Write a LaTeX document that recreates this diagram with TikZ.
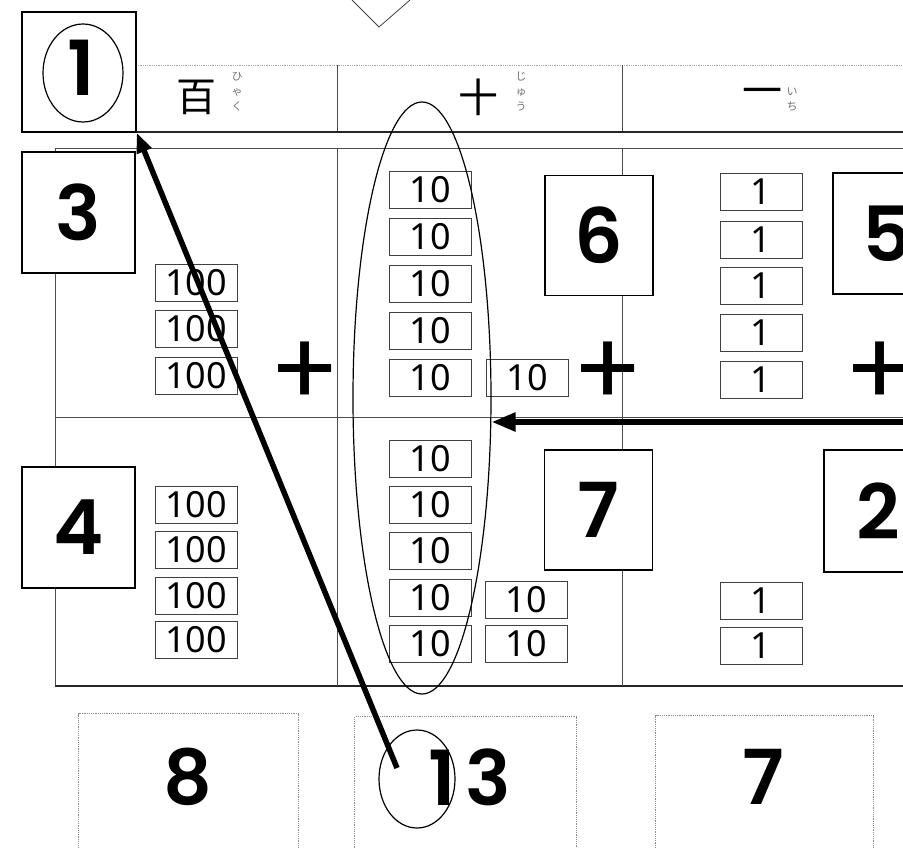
\documentclass[tikz,border=0pt]{standalone}
\usepackage{fontspec}
\setmainfont{Noto Sans}
\newfontfamily\jpfont{Noto Sans CJK JP}
\newfontfamily\numfont{Poppins}[BoldFont={Poppins SemiBold}]
\usetikzlibrary{arrows.meta,positioning,shapes.geometric}

\begin{document}
\begin{tikzpicture}[
    x=1pt, y=-1pt,
    >=Latex,
    grid/.style={draw=black!70, line width=0.8pt},
    chip/.style={draw=black!75, line width=0.9pt, fill=white, minimum width=82pt, minimum height=37pt, inner sep=0pt, font=\fontsize{36}{36}\selectfont},
    numbox/.style={draw=black, line width=1.4pt, fill=white, minimum width=108pt, minimum height=120pt, inner sep=0pt, font=\numfont\bfseries\fontsize{76}{76}\selectfont},
    ansbox/.style={draw=black!45, densely dotted, line width=1.2pt, minimum width=220pt, minimum height=150pt, anchor=north west, inner sep=0pt},
    ansnum/.style={font=\numfont\bfseries\fontsize{76}{76}\selectfont, inner sep=0pt},
    plus/.style={font=\numfont\fontsize{104}{104}\selectfont, inner sep=0pt},
    head/.style={font=\jpfont\fontsize{40}{40}\selectfont, inner sep=0pt},
    ruby/.style={font=\jpfont\fontsize{11}{15}\selectfont, text=black!55, align=center, inner sep=0pt},
    ring/.style={draw=black, line width=1.2pt, ellipse, inner sep=0pt},
    pen/.style={->, line width=5.5pt, >={Triangle[length=24pt,width=18pt]}}
]
\useasboundingbox (0,0) rectangle (903,847);

% top of the sign
\draw[black!75, line width=0.8pt] (352,0) -- (379,27) -- (410,0);

% header row
\draw[black!35, densely dotted, line width=0.8pt] (136,65) -- (903,65);
\draw[grid] (337,65) -- (337,132);
\draw[grid] (622,65) -- (622,132);
\draw[black!85, line width=1.2pt] (136,132) -- (903,132);
\node[head] (hyaku) at (196,97) {百};
\node[ruby] (hyakur) at (237,92) {ひ\\ゃ\\く};
\node[head] (juu) at (478,97) {十};
\node[ruby] (juur) at (521,92) {じ\\ゅ\\う};
\node[head] (ichi) at (762,97) {一};
\node[ruby] (ichir) at (792,100) {い\\ち};

% table
\draw[grid] (55,148) -- (903,148);
\draw[grid] (55,148) -- (55,686);
\draw[black!85, line width=1.2pt] (55,686) -- (903,686);
\draw[grid] (55,417) -- (903,417);
\draw[grid] (337,148) -- (337,686);
\draw[grid] (622,148) -- (622,686);

% number cards
\node[numbox, minimum width=114pt] (onebox) at (79,72) {};
\node[ring, minimum width=80pt, minimum height=98pt] (onering) at (83,73) {};
\node[ansnum] (one) at (81,68) {1};
\node[numbox, minimum width=113pt, minimum height=121pt] (three) at (78.5,212.5) {3};
\node[numbox, minimum width=113pt, minimum height=121pt] (four) at (78.5,527.5) {4};
\node[numbox] (six) at (599,235.5) {6};
\node[numbox, minimum height=121pt] (five) at (887,233.5) {5};
\node[numbox, minimum height=120pt] (seven) at (598.5,510) {7};
\node[numbox, minimum height=122pt] (two) at (878,511) {2};

% hundreds
\node[chip] (h1) at (196,283) {100};
\node[chip] (h2) at (196,329) {100};
\node[chip] (h3) at (196,376) {100};
\node[chip] (h4) at (196,505) {100};
\node[chip] (h5) at (196,550) {100};
\node[chip] (h6) at (196,596) {100};
\node[chip] (h7) at (196,640) {100};

% tens
\node[chip] (t1) at (430,190) {10};
\node[chip] (t2) at (430,237) {10};
\node[chip] (t3) at (430,284) {10};
\node[chip] (t4) at (430,331) {10};
\node[chip] (t5) at (430,378) {10};
\node[chip] (t6) at (527,378) {10};
\node[chip] (t7) at (430,459) {10};
\node[chip] (t8) at (430,505) {10};
\node[chip] (t9) at (430,551) {10};
\node[chip] (t10) at (430,598) {10};
\node[chip] (t11) at (430,644) {10};
\node[chip] (t12) at (526,600) {10};
\node[chip] (t13) at (526,644) {10};

% ones
\node[chip] (o1) at (761,192) {1};
\node[chip] (o2) at (761,240) {1};
\node[chip] (o3) at (761,286) {1};
\node[chip] (o4) at (761,333) {1};
\node[chip] (o5) at (761,380) {1};
\node[chip] (o6) at (761,601) {1};
\node[chip] (o7) at (761,646) {1};

% plus signs
\node[plus] (p1) at (305,374) {+};
\node[plus] (p2) at (608,374) {+};
\node[plus] (p3) at (880,374) {+};

% answer cards
\node[ansbox] (ans1) at (78,713) {};
\node[ansbox, minimum width=222pt] (ans2) at (354,716) {};
\node[ansbox, minimum width=218pt] (ans3) at (655,715) {};
\node[ansnum] (eight) at (188,777) {8};
\node[ansnum] (thirteen) at (470,777) {1\kern10pt3};
\node[ansnum] (sevenb) at (763,777) {7};
\node[ring, minimum width=76pt, minimum height=98pt] (carry) at (417,779) {};

% regrouping
\node[ring, minimum width=138pt, minimum height=592pt] (tens) at (422,398) {};
\coordinate (rstart) at (903,422);
\draw[pen] (rstart) -- (rstart -| tens.east);
\coordinate (pstart) at (397,768);
\draw[pen, >={Triangle[length=20pt,width=15pt]}] (pstart) -- (onebox.south east);
\end{tikzpicture}
\end{document}
